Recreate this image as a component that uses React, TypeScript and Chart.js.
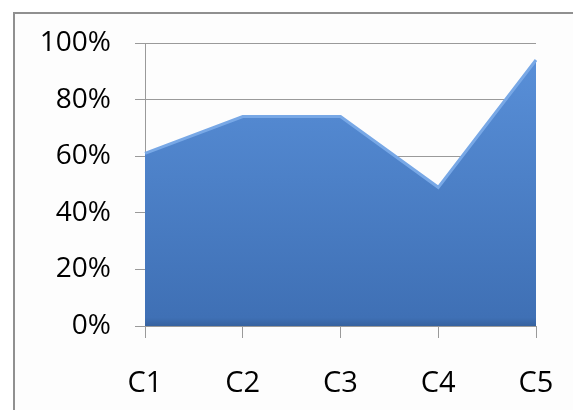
import React, { useEffect, useRef } from "react";
import { Chart, registerables } from "chart.js";

Chart.register(...registerables);

const categories = ["C1", "C2", "C3", "C4", "C5"];
const values = [0.61, 0.74, 0.74, 0.49, 0.94];
const yTicks = [0, 0.2, 0.4, 0.6, 0.8, 1.0];

const FONT = "'Open Sans', 'Liberation Sans', sans-serif";

export default function App() {
  const ref = useRef<HTMLCanvasElement | null>(null);

  useEffect(() => {
    if (!ref.current) return;
    const chart = new Chart(ref.current, {
      type: "line",
      data: {
        labels: categories,
        datasets: [
          {
            data: values,
            fill: "origin",
            tension: 0,
            pointRadius: 0,
            borderWidth: 3,
            borderColor: "#78a8e6",
            backgroundColor: (ctx: any) => {
              const area = ctx.chart.chartArea;
              if (!area) return "#4a7fc6";
              const g = ctx.chart.ctx.createLinearGradient(0, area.top, 0, area.bottom);
              g.addColorStop(0, "#5a91da");
              g.addColorStop(0.97, "#3f70b5");
              g.addColorStop(1, "#36629f");
              return g;
            },
          },
        ],
      },
      options: {
        animation: false,
        responsive: false,
        devicePixelRatio: 1,
        layout: { padding: { top: 43, right: 37, left: 0, bottom: 0 } },
        plugins: { legend: { display: false }, tooltip: { enabled: false } },
        scales: {
          x: {
            type: "category",
            offset: false,
            grid: {
              drawOnChartArea: false,
              drawTicks: true,
              tickLength: 12,
              color: "#9a9a9a",
            },
            border: { display: true, color: "#9a9a9a" },
            ticks: {
              color: "#000",
              font: { family: FONT, size: 29 },
              padding: 28,
              maxRotation: 0,
            },
            afterFit: (s: any) => {
              s.height = 84;
              s.paddingLeft = 0;
              s.paddingRight = 0;
            },
          },
          y: {
            min: 0,
            max: 1,
            afterBuildTicks: (s: any) => {
              s.ticks = yTicks.map((v) => ({ value: v }));
            },
            grid: {
              drawTicks: true,
              tickLength: 10,
              color: "#9a9a9a",
            },
            border: { display: true, color: "#9a9a9a" },
            ticks: {
              color: "#000",
              font: { family: FONT, size: 28 },
              padding: 24,
              callback: (v: any) => Math.round(Number(v) * 100) + "%",
            },
            afterFit: (s: any) => {
              s.width = 145;
              s.paddingTop = 0;
              s.paddingBottom = 0;
            },
          },
        },
      },
    });
    return () => chart.destroy();
  }, []);

  return (
    <div
      style={{
        position: "fixed",
        left: 0,
        top: 0,
        width: 573,
        height: 410,
        overflow: "hidden",
        background: "#fff",
      }}
    >
      <div
        style={{
          position: "absolute",
          left: 13,
          top: 12,
          width: 700,
          height: 600,
          border: "2px solid #909090",
          background: "#fdfdfd",
        }}
      />
      <canvas
        ref={ref}
        width={573}
        height={410}
        style={{ position: "absolute", left: 0, top: 0 }}
      />
    </div>
  );
}
